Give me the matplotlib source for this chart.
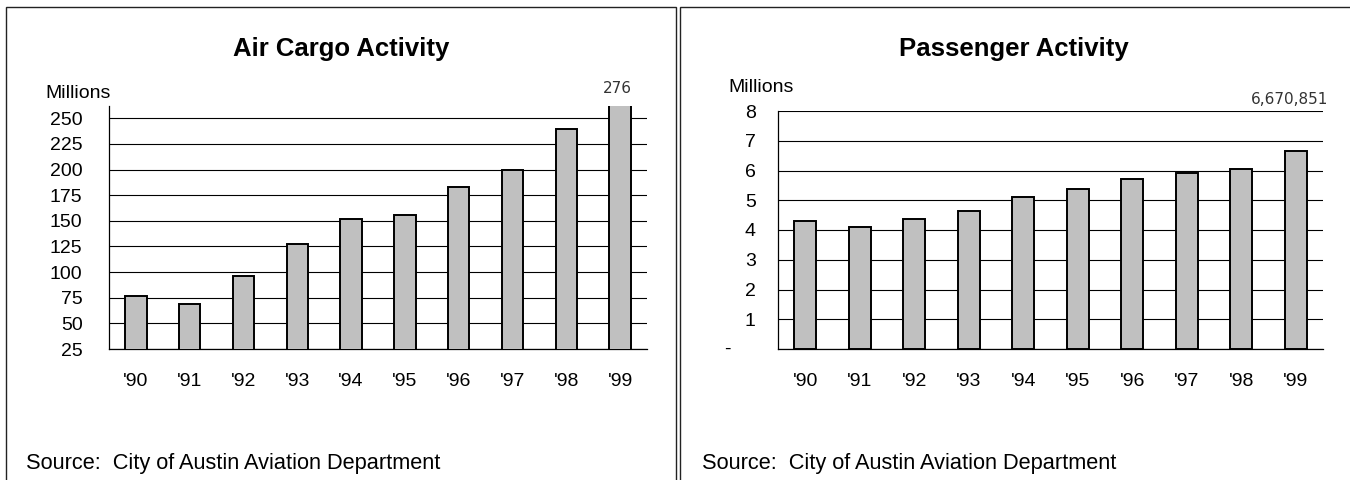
"""
Austin airport activity, 1990-1999: air cargo and passenger counts
as two boxed bar panels side by side.
"""

import matplotlib
matplotlib.use('Agg')
import matplotlib.pyplot as plt
from matplotlib.patches import Rectangle

# ── Data ──────────────────────────────────────────────────
YEARS = ["'90", "'91", "'92", "'93", "'94", "'95", "'96", "'97", "'98", "'99"]
CARGO_M = [77, 69, 96, 127, 152, 156, 183, 200, 240, 276]
PAX_M = [4.31, 4.09, 4.37, 4.65, 5.11, 5.38, 5.71, 5.93, 6.05, 6670851 / 1e6]
PAX_1999 = 6670851

CARGO_TICKS = [25, 50, 75, 100, 125, 150, 175, 200, 225, 250]
PAX_TICKS = [0, 1, 2, 3, 4, 5, 6, 7, 8]

SOURCE = "Source:  City of Austin Aviation Department"

# ── Style ─────────────────────────────────────────────────
W, H, DPI = 1350, 480, 100
FONT = 'Liberation Sans'
BAR_FACE = '#c0c0c0'
INK = '#000000'

plt.rcParams['font.family'] = FONT


def px_box(x0, y0, x1, y1):
    """Pixel box (top-left origin) -> figure-fraction [l, b, w, h]."""
    return [x0 / W, 1 - y1 / H, (x1 - x0) / W, (y1 - y0) / H]


def style_axes(ax, pad_y):
    ax.set_axisbelow(True)
    ax.yaxis.grid(True, color=INK, linewidth=0.8)
    ax.xaxis.grid(False)
    for side in ('top', 'right'):
        ax.spines[side].set_visible(False)
    for side in ('left', 'bottom'):
        ax.spines[side].set_color(INK)
        ax.spines[side].set_linewidth(0.9)
    ax.tick_params(axis='y', length=0, pad=pad_y, labelsize=14)
    ax.tick_params(axis='x', length=0, pad=17, labelsize=14)
    ax.set_xlim(-0.5, len(YEARS) - 0.5)
    ax.set_xticks(range(len(YEARS)))
    ax.set_xticklabels(YEARS)


def draw_bars(ax, values):
    ax.bar(range(len(values)), values, width=0.4, color=BAR_FACE,
           edgecolor=INK, linewidth=1.4, zorder=3)


fig = plt.figure(figsize=(W / DPI, H / DPI), dpi=DPI)
fig.patch.set_facecolor('white')

# panel frames (run off the bottom/right edge of the canvas)
for x0, x1 in [(6, 676), (680, 1352)]:
    l, b, w, h = px_box(x0, 7, x1, 490)
    fig.add_artist(Rectangle((l, b), w, h, transform=fig.transFigure,
                             facecolor='none', edgecolor='#222222',
                             linewidth=1.0, clip_on=False))

# ── Air cargo ─────────────────────────────────────────────
ax1 = fig.add_axes(px_box(109, 106, 647, 349))
draw_bars(ax1, CARGO_M)
ax1.set_ylim(25, 262)
ax1.set_yticks(CARGO_TICKS)
ax1.set_yticklabels([str(t) for t in CARGO_TICKS])
style_axes(ax1, pad_y=19)
ax1.text(8.95, 279, f"{CARGO_M[-1]}", ha='center', va='center',
         fontsize=11, color='#333333', family='DejaVu Sans')

fig.text(341 / W, 1 - 49 / H, "Air Cargo Activity", ha='center', va='center',
         fontsize=18.5, fontweight='bold')
fig.text(45 / W, 1 - 93 / H, "Millions", ha='left', va='center', fontsize=14)
fig.text(26 / W, 1 - 463 / H, SOURCE, ha='left', va='center', fontsize=15.7)

# ── Passengers ────────────────────────────────────────────
ax2 = fig.add_axes(px_box(778, 111, 1323, 349))
draw_bars(ax2, PAX_M)
ax2.set_ylim(0, 8)
ax2.set_yticks(PAX_TICKS)
ax2.set_yticklabels([''] + [str(t) for t in PAX_TICKS[1:]])
style_axes(ax2, pad_y=16)
# zero shown as a dash, set further left than the digits
ax2.text(-51 / 545, 0, "-", transform=ax2.get_yaxis_transform(),
         ha='center', va='center', fontsize=14)
ax2.text(9.6, 8.37, f"{PAX_1999:,}", ha='right', va='center',
         fontsize=11, color='#333333', family='DejaVu Sans')

fig.text(1014 / W, 1 - 49 / H, "Passenger Activity", ha='center', va='center',
         fontsize=18.5, fontweight='bold')
fig.text(728 / W, 1 - 87 / H, "Millions", ha='left', va='center', fontsize=14)
fig.text(702 / W, 1 - 463 / H, SOURCE, ha='left', va='center', fontsize=15.7)

fig.savefig('out.png', dpi=DPI, facecolor=fig.get_facecolor())
